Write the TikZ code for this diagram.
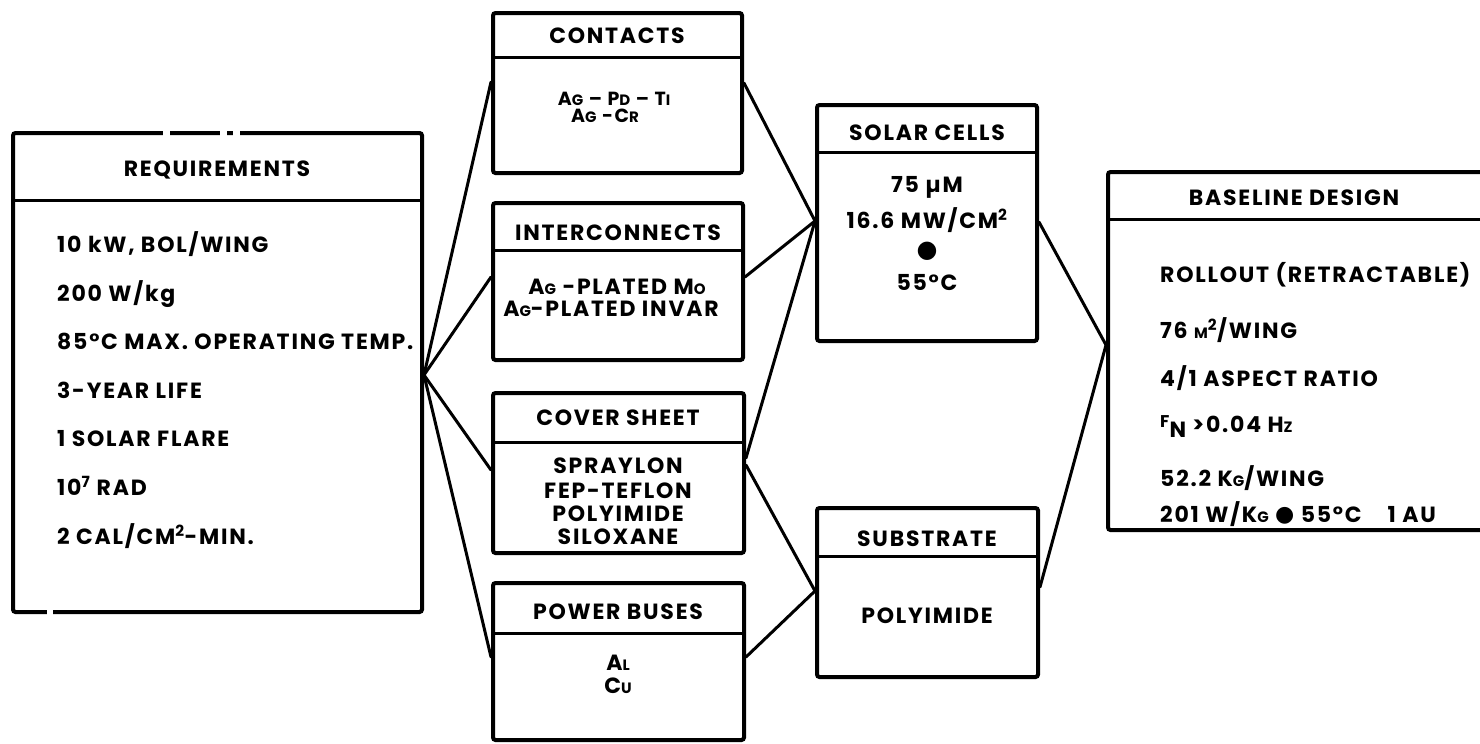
\documentclass[tikz,border=0pt]{standalone}
\usepackage{fontspec}
\setmainfont{Poppins}[LetterSpace=8]
\newfontfamily\symf{DejaVu Sans}
\newcommand\smc[1]{{\fontsize{15}{15}\selectfont #1}}
\newcommand\bigdot{{\symf\fontsize{24}{24}\selectfont ●}}
\tikzset{
  box/.style={draw, line width=4pt, rounded corners=2.5pt, inner sep=0pt},
  divider/.style={line width=3pt},
  conn/.style={line width=3pt, line cap=round},
  ttl/.style={anchor=base, inner sep=0pt, font=\bfseries\fontsize{22}{23}\selectfont},
  bt/.style={anchor=base, inner sep=0pt, font=\bfseries\fontsize{22}{23}\selectfont},
  btl/.style={anchor=base west, inner sep=0pt, font=\bfseries\fontsize{22}{23}\selectfont},
  st/.style={anchor=base, inner sep=0pt, font=\bfseries\fontsize{19}{20}\selectfont},
}
\begin{document}
\begin{tikzpicture}[x=1pt,y=-1pt]
\clip (0,0) rectangle (1480,744);
\fill[white] (0,0) rectangle (1480,744);

% boxes
\node[box, minimum width=409pt, minimum height=479pt] (req) at (217.5,372.5) {};
\node[box, minimum width=249pt, minimum height=160pt] (con) at (617.5,93) {};
\node[box, minimum width=250pt, minimum height=157pt] (int) at (618,281.5) {};
\node[box, minimum width=251pt, minimum height=160pt] (cov) at (618.5,473) {};
\node[box, minimum width=251pt, minimum height=157pt] (pow) at (618.5,661.5) {};
\node[box, minimum width=220pt, minimum height=236pt] (sol) at (927,223) {};
\node[box, minimum width=221pt, minimum height=169pt] (sub) at (927.5,592.5) {};
\node[box, minimum width=390pt, minimum height=358pt] (bas) at (1303,351) {};

% gaps in the requirements border
\fill[white] (163,128) rectangle (170,138);
\fill[white] (220,128) rectangle (227,138);
\fill[white] (233,128) rectangle (240,138);
\fill[white] (47,607) rectangle (53,617);

% dividers
\draw[divider] (req.west |- 0,200) -- (req.east |- 0,200);
\draw[divider] (con.west |- 0,57) -- (con.east |- 0,57);
\draw[divider] (int.west |- 0,250) -- (int.east |- 0,250);
\draw[divider] (cov.west |- 0,442) -- (cov.east |- 0,442);
\draw[divider] (pow.west |- 0,633) -- (pow.east |- 0,633);
\draw[divider] (sol.west |- 0,152) -- (sol.east |- 0,152);
\draw[divider] (sub.west |- 0,556) -- (sub.east |- 0,556);
\draw[divider] (bas.west |- 0,219) -- (bas.east |- 0,219);

% connector end points
\coordinate (reqJ) at (req.east |- 0,375);
\coordinate (conL) at (con.west |- 0,82);
\coordinate (intL) at (int.west |- 0,277);
\coordinate (covL) at (cov.west |- 0,470);
\coordinate (powL) at (pow.west |- 0,657);
\coordinate (conR) at (con.east |- 0,83);
\coordinate (intR) at (int.east |- 0,277);
\coordinate (covRa) at (cov.east |- 0,458);
\coordinate (covRb) at (cov.east |- 0,465);
\coordinate (powR) at (pow.east |- 0,657);
\coordinate (solL) at (sol.west |- 0,221);
\coordinate (subL) at (sub.west |- 0,591);
\coordinate (solR) at (sol.east |- 0,222);
\coordinate (subR) at (sub.east |- 0,587);
\coordinate (basL) at (bas.west |- 0,345);

\draw[conn] (reqJ) -- (conL);
\draw[conn] (reqJ) -- (intL);
\draw[conn] (reqJ) -- (covL);
\draw[conn] (reqJ) -- (powL);
\draw[conn] (conR) -- (solL);
\draw[conn] (intR) -- (solL);
\draw[conn] (covRa) -- (solL);
\draw[conn] (covRb) -- (subL);
\draw[conn] (powR) -- (subL);
\draw[conn] (solR) -- (basL);
\draw[conn] (subR) -- (basL);

% requirements
\node[ttl] (reqT) at (217,176) {REQUIREMENTS};
\node[btl] (r1) at (57,252) {10 kW, BOL/WING};
\node[btl] (r2) at (57,301) {200 W/kg};
\node[btl] (r3) at (57,349) {85°C MAX. OPERATING TEMP.};
\node[btl] (r4) at (57,398) {3-YEAR LIFE};
\node[btl] (r5) at (57,446) {1 SOLAR FLARE};
\node[btl] (r6) at (57,495) {10\textsuperscript{7} RAD};
\node[btl] (r7) at (57,544) {2 CAL/CM\textsuperscript{2}-MIN.};

% contacts
\node[st] (c1) at (614,105) {A\smc{G} -- P\smc{D} -- T\smc{I}};
\node[st] (c2) at (605,122) {A\smc{G} -C\smc{R}};
\node[ttl] (conT) at (617,43) {CONTACTS};

% interconnects
\node[ttl] (intT) at (618,240) {INTERCONNECTS};
\node[bt] (i1) at (617,294) {A\smc{G} -PLATED M\smc{O}};
\node[bt] (i2) at (611,316) {A\smc{G}-PLATED INVAR};

% cover sheet
\node[ttl] (covT) at (618,425) {COVER SHEET};
\node[bt] (v1) at (618,473) {SPRAYLON};
\node[bt] (v2) at (618,498) {FEP-TEFLON};
\node[bt] (v3) at (618,521) {POLYIMIDE};
\node[bt] (v4) at (618,544) {SILOXANE};

% power buses
\node[ttl] (powT) at (618,619) {POWER BUSES};
\node[bt] (p1) at (618,670) {A\smc{L}};
\node[bt] (p2) at (618,693) {C\smc{U}};

% solar cells
\node[ttl] (solT) at (927,140) {SOLAR CELLS};
\node[bt] (s1) at (927,192) {75 µM};
\node[bt] (s2) at (927,228) {16.6 MW/CM\textsuperscript{2}};
\node[inner sep=0pt] (s3) at (927,251) {\bigdot};
\node[bt] (s4) at (927,290) {55°C};

% substrate
\node[ttl] (subT) at (927,546) {SUBSTRATE};
\node[bt] (b1) at (927,623) {POLYIMIDE};

% baseline design
\node[ttl] (basT) at (1294,205) {BASELINE DESIGN};
\node[btl] (d1) at (1160,282) {ROLLOUT (RETRACTABLE)};
\node[btl] (d2) at (1160,338) {76 \smc{M}\textsuperscript{2}/WING};
\node[btl] (d3) at (1160,386) {4/1 ASPECT RATIO};
\node[btl] (d4) at (1160,432) {\raisebox{5pt}{\fontsize{17}{17}\selectfont F}\raisebox{-5pt}{N} >0.04 H\smc{Z}};
\node[btl] (d5) at (1160,486) {52.2 K\smc{G}/WING};
\node[btl] (d6) at (1160,522) {201 W/K\smc{G} \raisebox{1pt}{\symf\fontsize{22}{22}\selectfont ●} 55°C\hspace{26pt}1 AU};
\end{tikzpicture}
\end{document}
